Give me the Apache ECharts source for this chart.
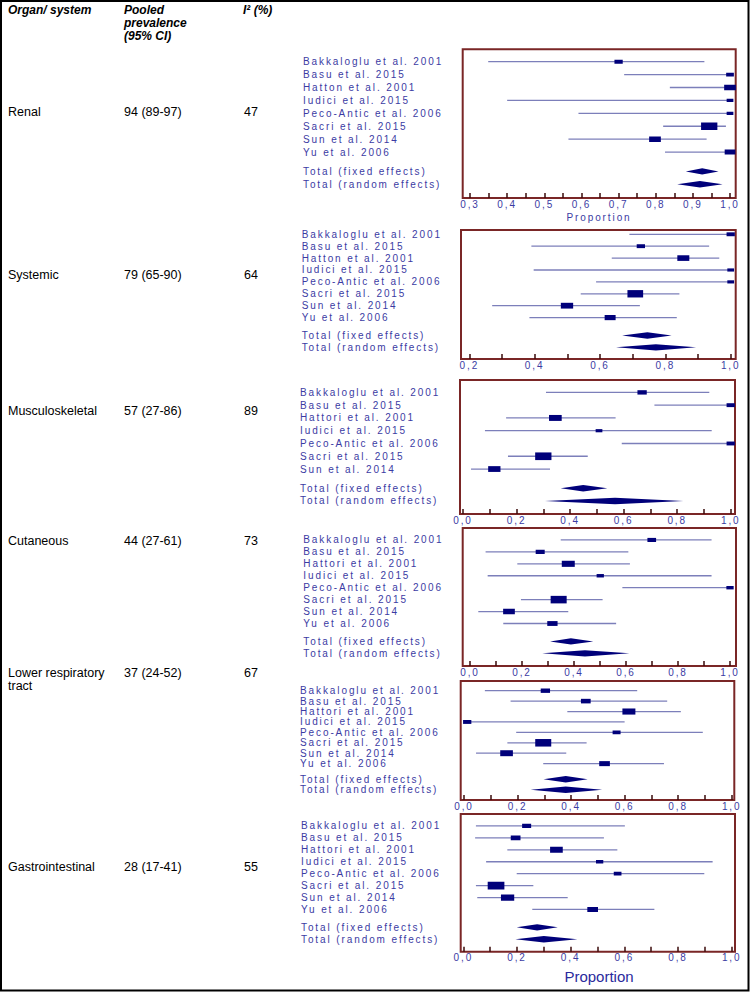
<!DOCTYPE html>
<html>
<head>
<meta charset="utf-8">
<script src="https://cdn.jsdelivr.net/npm/echarts@6/dist/echarts.min.js"></script>
<style>
  html, body { margin: 0; padding: 0; background: #fff; }
  #c { width: 750px; height: 992px; }
  #c svg text[fill="#3b3ba3"] { letter-spacing: 1.9px; }
</style>
</head>
<body>
<div id="c"></div>
<script>
// ---------------- DATA ----------------
const organs = ['Renal', 'Systemic', 'Musculoskeletal', 'Cutaneous', 'Lower respiratory\ntract', 'Gastrointestinal'];
const pooled = ['94 (89-97)', '79 (65-90)', '57 (27-86)', '44 (27-61)', '37 (24-52)', '28 (17-41)'];
const i2 = ['47', '64', '89', '73', '67', '55'];

const studiesA = ['Bakkaloglu et al. 2001', 'Basu et al. 2015', 'Hatton et al. 2001', 'Iudici et al. 2015', 'Peco-Antic et al. 2006', 'Sacri et al. 2015', 'Sun et al. 2014', 'Yu et al. 2006'];
const studiesB = ['Bakkaloglu et al. 2001', 'Basu et al. 2015', 'Hattori et al. 2001', 'Iudici et al. 2015', 'Peco-Antic et al. 2006', 'Sacri et al. 2015', 'Sun et al. 2014', 'Yu et al. 2006'];
const studiesC = ['Bakkaloglu et al. 2001', 'Basu et al. 2015', 'Hattori et al. 2001', 'Iudici et al. 2015', 'Peco-Antic et al. 2006', 'Sacri et al. 2015', 'Sun et al. 2014'];
const totalLabels = ['Total (fixed effects)', 'Total (random effects)'];

// Renal
const renalEst = [0.70, 1.00, 1.00, 1.00, 1.00, 0.944, 0.798, 1.00];
const renalLo  = [0.349, 0.715, 0.838, 0.40, 0.592, 0.82, 0.565, 0.825];
const renalHi  = [0.931, 1.00, 1.00, 1.00, 1.00, 0.989, 0.937, 1.00];
const renalW   = [5.3, 4.6, 10.6, 3.5, 3.5, 20.5, 10.6, 8.8];
const renalFixed = [0.881, 0.925, 0.969];
const renalRandom = [0.858, 0.919, 0.980];
// Systemic
const systEst = [1.00, 0.725, 0.855, 1.00, 1.00, 0.708, 0.499, 0.631];
const systLo  = [0.69, 0.39, 0.636, 0.397, 0.588, 0.541, 0.27, 0.384];
const systHi  = [1.00, 0.934, 0.965, 1.00, 1.00, 0.843, 0.722, 0.835];
const systW   = [5.3, 5.3, 11.1, 3.5, 3.5, 19.0, 11.7, 9.3];
const systFixed = [0.668, 0.745, 0.819];
const systRandom = [0.649, 0.771, 0.894];
// Musculoskeletal
const muscEst = [0.669, 1.00, 0.345, 0.508, 1.00, 0.30, 0.117];
const muscLo  = [0.31, 0.715, 0.161, 0.082, 0.593, 0.168, 0.03];
const muscHi  = [0.92, 1.00, 0.57, 0.929, 1.00, 0.466, 0.325];
const muscW   = [6.7, 5.3, 12.4, 3.5, 5.3, 20.5, 11.7];
const muscFixed = [0.365, 0.449, 0.539];
const muscRandom = [0.306, 0.568, 0.823];
// Cutaneous
const cutEst = [0.699, 0.27, 0.378, 0.501, 1.00, 0.341, 0.15, 0.317];
const cutLo  = [0.349, 0.06, 0.182, 0.068, 0.586, 0.196, 0.032, 0.128];
const cutHi  = [0.929, 0.609, 0.615, 0.929, 1.00, 0.51, 0.378, 0.562];
const cutW   = [5.8, 6.3, 13.0, 4.1, 4.1, 19.8, 10.6, 8.2];
const cutFixed = [0.308, 0.388, 0.474];
const cutRandom = [0.278, 0.442, 0.613];
// Lower respiratory tract
const lrtEst = [0.304, 0.455, 0.616, 0.012, 0.57, 0.296, 0.159, 0.525];
const lrtLo  = [0.078, 0.174, 0.386, 0.0, 0.195, 0.162, 0.045, 0.296];
const lrtHi  = [0.647, 0.759, 0.81, 0.60, 0.892, 0.458, 0.382, 0.747];
const lrtW   = [6.7, 7.3, 13.0, 5.3, 4.9, 19.8, 12.4, 8.8];
const lrtFixed = [0.297, 0.38, 0.462];
const lrtRandom = [0.249, 0.38, 0.516];
// Gastrointestinal
const giEst = [0.236, 0.195, 0.347, 0.508, 0.575, 0.122, 0.165, 0.482];
const giLo  = [0.047, 0.044, 0.164, 0.085, 0.199, 0.047, 0.052, 0.257];
const giHi  = [0.602, 0.524, 0.574, 0.929, 0.898, 0.261, 0.389, 0.712];
const giW   = [6.3, 7.3, 12.4, 4.1, 4.6, 21.5, 13.6, 8.8];
const giFixed = [0.199, 0.275, 0.352];
const giRandom = [0.194, 0.30, 0.425];

// tick labels / ticks
const ticksLabelsA = [0.3, 0.4, 0.5, 0.6, 0.7, 0.8, 0.9, 1.0];
const ticksMinorA = [0.3, 0.35, 0.4, 0.45, 0.5, 0.55, 0.6, 0.65, 0.7, 0.75, 0.8, 0.85, 0.9, 0.95, 1.0];
const ticksLabelsB = [0.2, 0.4, 0.6, 0.8, 1.0];
const ticksMinorB = [0.2, 0.3, 0.4, 0.5, 0.6, 0.7, 0.8, 0.9, 1.0];
const ticksLabelsC = [0.0, 0.2, 0.4, 0.6, 0.8, 1.0];
const ticksMinorC = [0.0, 0.1, 0.2, 0.3, 0.4, 0.5, 0.6, 0.7, 0.8, 0.9, 1.0];

const panels = [
  { names: studiesA, est: renalEst, lo: renalLo, hi: renalHi, w: renalW, fixed: renalFixed, random: renalRandom, labels: ticksLabelsA, ticks: ticksMinorA },
  { names: studiesA, est: systEst, lo: systLo, hi: systHi, w: systW, fixed: systFixed, random: systRandom, labels: ticksLabelsB, ticks: ticksMinorB },
  { names: studiesC, est: muscEst, lo: muscLo, hi: muscHi, w: muscW, fixed: muscFixed, random: muscRandom, labels: ticksLabelsC, ticks: ticksMinorC },
  { names: studiesB, est: cutEst, lo: cutLo, hi: cutHi, w: cutW, fixed: cutFixed, random: cutRandom, labels: ticksLabelsC, ticks: ticksMinorC },
  { names: studiesB, est: lrtEst, lo: lrtLo, hi: lrtHi, w: lrtW, fixed: lrtFixed, random: lrtRandom, labels: ticksLabelsC, ticks: ticksMinorC },
  { names: studiesB, est: giEst, lo: giLo, hi: giHi, w: giW, fixed: giFixed, random: giRandom, labels: ticksLabelsC, ticks: ticksMinorC }
];

// ---------------- LAYOUT ----------------
const layout = [
  { left: 462.7, right: 735.7, top: 49.3, bottom: 198, xmin: 0.2803, xmax: 1.0153, ymin: -0.96, ymax: 10.56, labelX: 303, rowY: 112 },
  { left: 461, right: 735.7, top: 230, bottom: 359, xmin: 0.1746, xmax: 1.0153, ymin: -0.36, ymax: 10.48, labelX: 301.7, rowY: 275 },
  { left: 460, right: 735, top: 380, bottom: 514, xmin: -0.0112, xmax: 1.016, ymin: -0.97, ymax: 9.52, labelX: 300, rowY: 411 },
  { left: 462.7, right: 736, top: 528, bottom: 666, xmin: -0.028, xmax: 1.023, ymin: -1.0, ymax: 10.56, labelX: 303.3, rowY: 541 },
  { left: 460.7, right: 734.3, top: 681, bottom: 800, xmin: -0.0123, xmax: 1.0097, ymin: -0.93, ymax: 10.49, labelX: 300, rowY: 679.5 },
  { left: 460.7, right: 735, top: 814, bottom: 951.7, xmin: -0.0097, xmax: 1.0124, ymin: -1.0, ymax: 10.54, labelX: 301, rowY: 867 }
];

const FONT = '"Liberation Sans", Arial, sans-serif';
const BLUE_TXT = '#3b3ba3';
const BOX = '#7a2626';
const NAVY = '#00007a';
const CI = '#7c7fba';

const chart = echarts.init(document.getElementById('c'), null, { renderer: 'svg', width: 750, height: 992 });

const grids = [], xAxes = [], yAxes = [], series = [];

panels.forEach((p, i) => {
  const L = layout[i];
  const n = p.names.length;
  const rowPos = p.names.map((_, k) => k).concat([n + 0.5, n + 1.5]);
  const rowNames = p.names.concat(totalLabels);

  grids.push({
    left: L.left, top: L.top, width: L.right - L.left, height: L.bottom - L.top,
    show: true, borderColor: BOX, borderWidth: 2, backgroundColor: 'transparent'
  });
  xAxes.push({
    type: 'value', gridIndex: i, min: L.xmin, max: L.xmax, position: 'bottom',
    axisLine: { show: false, onZero: false },
    splitLine: { show: false },
    axisTick: { show: true, inside: true, length: 5, customValues: p.ticks, lineStyle: { color: '#3a0a0a', width: 1.5 } },
    axisLabel: {
      customValues: p.labels, margin: 1, color: BLUE_TXT, fontSize: 10, fontFamily: FONT,
      formatter: v => Number(v).toFixed(1).replace('.', ',')
    }
  });
  yAxes.push({
    type: 'value', gridIndex: i, inverse: true, min: L.ymin, max: L.ymax,
    axisLine: { show: false, onZero: false }, axisTick: { show: false }, splitLine: { show: false },
    axisLabel: {
      customValues: rowPos, align: 'left', margin: L.left - L.labelX,
      color: BLUE_TXT, fontSize: 10, fontFamily: FONT,
      formatter: v => {
        const k = rowPos.findIndex(r => Math.abs(r - v) < 1e-6);
        return k >= 0 ? rowNames[k] : '';
      }
    }
  });

  const data = [];
  for (let k = 0; k < n; k++) data.push([k, p.lo[k], p.est[k], p.hi[k], p.w[k], 0]);
  data.push([n + 0.5, p.fixed[0], p.fixed[1], p.fixed[2], 0, 1]);
  data.push([n + 1.5, p.random[0], p.random[1], p.random[2], 0, 1]);

  series.push({
    type: 'custom', xAxisIndex: i, yAxisIndex: i, clip: true,
    data: data,
    encode: { x: [1, 2, 3], y: 0 },
    renderItem: (params, api) => {
      const row = api.value(0), lo = api.value(1), est = api.value(2), hi = api.value(3), w = api.value(4), kind = api.value(5);
      const pLo = api.coord([lo, row]), pEst = api.coord([est, row]), pHi = api.coord([hi, row]);
      const y = pEst[1];
      if (kind === 0) {
        const bw = 3.6 * Math.sqrt(w);
        const bh = Math.max(3, 0.47 * bw);
        return {
          type: 'group', children: [
            { type: 'line', shape: { x1: pLo[0], y1: y, x2: pHi[0], y2: y }, style: { stroke: CI, lineWidth: 1.3 } },
            { type: 'rect', shape: { x: pEst[0] - bw / 2, y: y - bh / 2, width: bw, height: bh }, style: { fill: NAVY } }
          ]
        };
      }
      const h = 3.2;
      return {
        type: 'polygon',
        shape: { points: [[pLo[0], y], [pEst[0], y - h], [pHi[0], y], [pEst[0], y + h]] },
        style: { fill: NAVY }
      };
    }
  });
});

// left table text
const graphic = [
  { type: 'rect', shape: { x: 1, y: 1, width: 747.5, height: 989.5 }, style: { fill: 'none', stroke: '#000', lineWidth: 2 }, silent: true },
  { type: 'text', x: 8, y: 10, style: { text: 'Organ/ system', fontFamily: FONT, fontSize: 12, fontWeight: 'bold', fontStyle: 'italic', fill: '#000', verticalAlign: 'middle' } },
  { type: 'text', x: 124, y: 10, style: { text: 'Pooled', fontFamily: FONT, fontSize: 12, fontWeight: 'bold', fontStyle: 'italic', fill: '#000', verticalAlign: 'middle' } },
  { type: 'text', x: 124, y: 23, style: { text: 'prevalence', fontFamily: FONT, fontSize: 12, fontWeight: 'bold', fontStyle: 'italic', fill: '#000', verticalAlign: 'middle' } },
  { type: 'text', x: 124, y: 36, style: { text: '(95% CI)', fontFamily: FONT, fontSize: 12, fontWeight: 'bold', fontStyle: 'italic', fill: '#000', verticalAlign: 'middle' } },
  { type: 'text', x: 243, y: 10, style: { text: 'I² (%)', fontFamily: FONT, fontSize: 12, fontWeight: 'bold', fontStyle: 'italic', fill: '#000', verticalAlign: 'middle' } },
  { type: 'text', x: 599, y: 217, style: { text: 'Proportion', fontFamily: FONT, fontSize: 10, fill: BLUE_TXT, align: 'center', verticalAlign: 'middle' } },
  { type: 'text', x: 599, y: 976, style: { text: 'Proportion', fontFamily: FONT, fontSize: 15, fill: '#2a2a9c', align: 'center', verticalAlign: 'middle' } }
];
organs.forEach((o, i) => {
  const y = layout[i].rowY;
  graphic.push({ type: 'text', x: 8, y: y, style: { text: o, fontFamily: FONT, fontSize: 12.5, lineHeight: 13, fill: '#000', verticalAlign: 'middle' } });
  const yv = o.indexOf('\n') >= 0 ? y - 6.5 : y;
  graphic.push({ type: 'text', x: 124, y: yv, style: { text: pooled[i], fontFamily: FONT, fontSize: 12.5, fill: '#000', verticalAlign: 'middle' } });
  graphic.push({ type: 'text', x: 244, y: yv, style: { text: i2[i], fontFamily: FONT, fontSize: 12.5, fill: '#000', verticalAlign: 'middle' } });
});

chart.setOption({
  animation: false,
  backgroundColor: '#fff',
  grid: grids,
  xAxis: xAxes,
  yAxis: yAxes,
  series: series,
  graphic: graphic
});
</script>
</body>
</html>
